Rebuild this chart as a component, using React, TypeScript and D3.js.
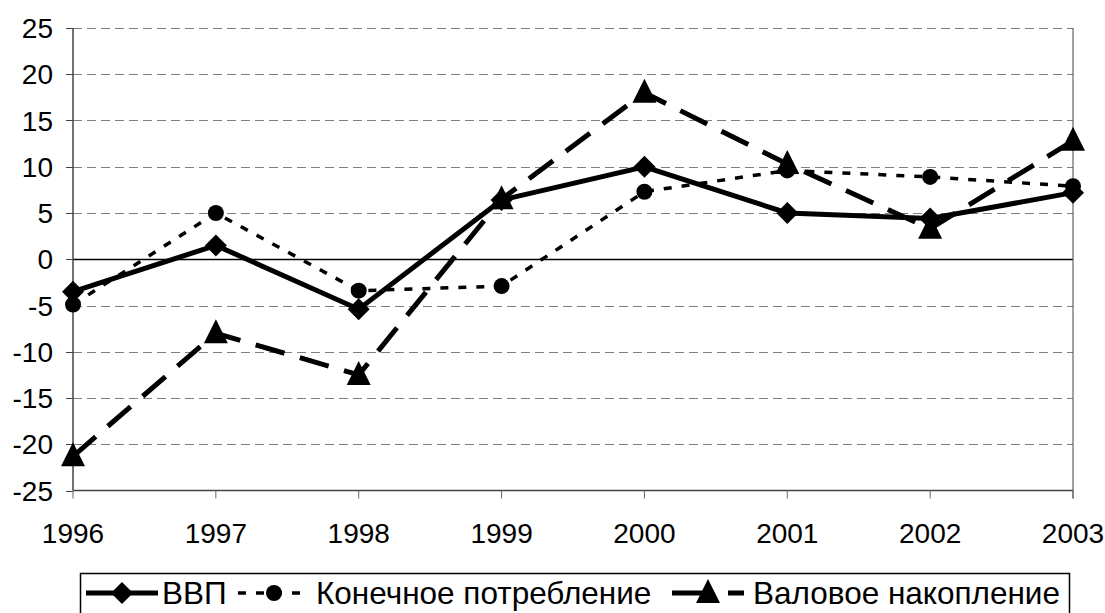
import * as d3 from 'd3'

const years = ['1996', '1997', '1998', '1999', '2000', '2001', '2002', '2003']
const gdp = [-3.5, 1.5, -5.4, 6.4, 10.0, 5.0, 4.4, 7.2]
const consumption = [-4.9, 5.0, -3.4, -2.9, 7.3, 9.6, 8.9, 7.9]
const accumulation = [-21.3, -8.0, -12.5, 6.5, 18.0, 10.3, 3.3, 12.8]
const yTicks = [25, 20, 15, 10, 5, 0, -5, -10, -15, -20, -25]

const series = [
  { name: 'ВВП', values: gdp, marker: 'diamond', dash: '', width: 5 },
  { name: 'Конечное потребление', values: consumption, marker: 'circle', dash: '8,10', width: 3.5 },
  { name: 'Валовое накопление', values: accumulation, marker: 'triangle', dash: '30,16', width: 5 },
]

const width = 1105
const height = 613
const marginLeft = 73
const marginRight = 32
const marginTop = 28
const plotBottom = 490.5
const font = 'Liberation Sans, Arial, sans-serif'

function Marker({ kind, x, y }: { kind: string; x: number; y: number }) {
  if (kind === 'diamond') {
    const s = 11
    return <path d={`M${x},${y - s}L${x + s},${y}L${x},${y + s}L${x - s},${y}Z`} fill="#000" />
  }
  if (kind === 'circle') {
    return <circle cx={x} cy={y} r={8} fill="#000" />
  }
  const s = 12
  return <path d={`M${x},${y - s - 2}L${x + s},${y + s - 2}L${x - s},${y + s - 2}Z`} fill="#000" />
}

export default function App() {
  const x = d3.scalePoint(years, [marginLeft, width - marginRight])
  const y = d3.scaleLinear([-25, 25], [plotBottom, marginTop])
  const line = d3.line<number>((v, i) => x(years[i]) as number, (v) => y(v))

  const legendX = 80
  const legendY = 573
  const legendW = 989
  const sampleW = 72
  const entries = [
    { lineX: 86, textX: 162, dash: '' },
    { lineX: 238, textX: 316, dash: '8,10' },
    { lineX: 672, textX: 753, dash: '36,20' },
  ]

  return (
    <svg
      width={width}
      height={height}
      style={{ position: 'absolute', left: 0, top: 0, background: '#fff' }}
      fontFamily={font}
    >
      {yTicks.map((t) => (
        <g key={t}>
          {t !== 0 && t !== -25 && (
            <line
              x1={marginLeft}
              x2={width - marginRight}
              y1={Math.round(y(t)) + 0.5}
              y2={Math.round(y(t)) + 0.5}
              stroke="#808080"
              strokeWidth={1.2}
              strokeDasharray="9,5"
            />
          )}
          <line
            x1={marginLeft - 7}
            x2={marginLeft}
            y1={Math.round(y(t)) + 0.5}
            y2={Math.round(y(t)) + 0.5}
            stroke="#444"
            strokeWidth={1}
          />
          <text x={53} y={y(t)} dy="0.36em" textAnchor="end" fontSize={28}>
            {t}
          </text>
        </g>
      ))}
      <line
        x1={marginLeft}
        x2={width - marginRight}
        y1={Math.round(y(0)) + 0.5}
        y2={Math.round(y(0)) + 0.5}
        stroke="#000"
        strokeWidth={1.5}
      />
      <line x1={marginLeft} x2={marginLeft} y1={marginTop} y2={plotBottom} stroke="#444" strokeWidth={1.5} />
      <line
        x1={width - marginRight}
        x2={width - marginRight}
        y1={marginTop}
        y2={plotBottom + 8}
        stroke="#444"
        strokeWidth={1}
      />
      <line x1={marginLeft} x2={width - marginRight} y1={plotBottom} y2={plotBottom} stroke="#444" strokeWidth={1.5} />
      {years.map((yr) => (
        <g key={yr}>
          <line
            x1={x(yr)}
            x2={x(yr)}
            y1={plotBottom}
            y2={plotBottom + 8}
            stroke="#666"
            strokeWidth={1}
          />
          <text x={x(yr)} y={543} textAnchor="middle" fontSize={28}>
            {yr}
          </text>
        </g>
      ))}

      {series.map((s) => (
        <g key={s.name}>
          <path
            d={line(s.values) || undefined}
            fill="none"
            stroke="#000"
            strokeWidth={s.width}
            strokeDasharray={s.dash || undefined}
            strokeLinejoin="miter"
          />
          {s.values.map((v, i) => (
            <Marker key={i} kind={s.marker} x={x(years[i]) as number} y={y(v)} />
          ))}
        </g>
      ))}

      <rect
        x={legendX + 0.5}
        y={legendY + 0.5}
        width={legendW}
        height={50}
        fill="#fff"
        stroke="#000"
        strokeWidth={1.5}
      />
      {series.map((s, i) => {
        const e = entries[i]
        const cy = legendY + 20
        return (
          <g key={s.name}>
            <line
              x1={e.lineX}
              x2={e.lineX + sampleW}
              y1={cy}
              y2={cy}
              stroke="#000"
              strokeWidth={s.width}
              strokeDasharray={e.dash || undefined}
            />
            <Marker kind={s.marker} x={e.lineX + sampleW / 2} y={cy} />
            <text x={e.textX} y={cy} dy="0.36em" fontSize={31.5}>
              {s.name}
            </text>
          </g>
        )
      })}
    </svg>
  )
}
